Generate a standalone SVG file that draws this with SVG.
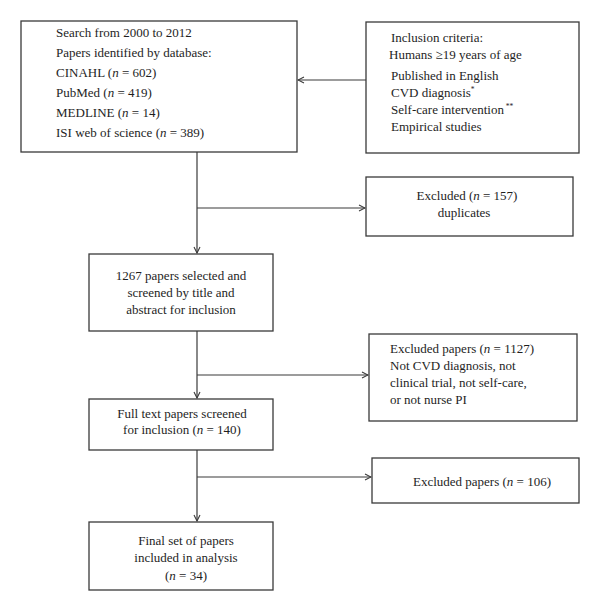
<svg xmlns="http://www.w3.org/2000/svg" width="600" height="611" viewBox="0 0 600 611">
<style>
.box{fill:#fff;stroke:#3a3a3a;stroke-width:1.3}
.ln{fill:none;stroke:#3a3a3a;stroke-width:1.2}
text{font-family:"Liberation Serif","Times New Roman",serif;font-size:13px;fill:#1e1e1e}
.c{text-anchor:middle}
.i{font-style:italic}
.sup{font-size:7.5px}
</style>
<defs>
<marker id="ah" viewBox="0 0 8 8" refX="7" refY="4" markerWidth="8" markerHeight="8" markerUnits="userSpaceOnUse" orient="auto">
<path d="M1,1 L7,4 L1,7" fill="none" stroke="#3a3a3a" stroke-width="1.1"/>
</marker>
</defs>
<rect width="600" height="611" fill="#fff"/>
<g id="connectors">
<line class="ln" x1="366" y1="80" x2="298" y2="80" marker-end="url(#ah)"/>
<line class="ln" x1="197" y1="152" x2="197" y2="253" marker-end="url(#ah)"/>
<line class="ln" x1="197" y1="208" x2="365" y2="208" marker-end="url(#ah)"/>
<line class="ln" x1="197" y1="331" x2="197" y2="398" marker-end="url(#ah)"/>
<line class="ln" x1="197" y1="375" x2="368" y2="375" marker-end="url(#ah)"/>
<line class="ln" x1="197" y1="450" x2="197" y2="521" marker-end="url(#ah)"/>
<line class="ln" x1="197" y1="477" x2="371" y2="477" marker-end="url(#ah)"/>
</g>
<g id="search">
<rect class="box" x="21" y="21" width="276" height="131"/>
<text x="56" y="37">Search from 2000 to 2012</text>
<text x="56" y="57">Papers identified by database:</text>
<text x="56" y="77">CINAHL (<tspan class="i">n</tspan> = 602)</text>
<text x="56" y="97">PubMed (<tspan class="i">n</tspan> = 419)</text>
<text x="56" y="117">MEDLINE (<tspan class="i">n</tspan> = 14)</text>
<text x="56" y="137">ISI web of science (<tspan class="i">n</tspan> = 389)</text>
</g>
<g id="inclusion">
<rect class="box" x="366" y="22" width="213" height="131"/>
<text x="391" y="42">Inclusion criteria:</text>
<text x="389" y="59">Humans ≥19 years of age</text>
<text x="391" y="80">Published in English</text>
<text x="391" y="97">CVD diagnosis<tspan class="sup" dy="-5">*</tspan></text>
<text x="391" y="114">Self-care intervention<tspan class="sup" dy="-5"> **</tspan></text>
<text x="391" y="131">Empirical studies</text>
</g>
<g id="excluded-duplicates">
<rect class="box" x="366" y="177" width="207" height="59"/>
<text class="c" x="467" y="200">Excluded (<tspan class="i">n</tspan> = 157)</text>
<text class="c" x="464" y="217">duplicates</text>
</g>
<g id="screened">
<rect class="box" x="89" y="254" width="184" height="77"/>
<text class="c" x="181" y="280">1267 papers selected and</text>
<text class="c" x="181" y="297">screened by title and</text>
<text class="c" x="181" y="314">abstract for inclusion</text>
</g>
<g id="excluded-1127">
<rect class="box" x="369" y="334" width="208" height="87"/>
<text x="390" y="353">Excluded papers (<tspan class="i">n</tspan> = 1127)</text>
<text x="390" y="370">Not CVD diagnosis, not</text>
<text x="390" y="387">clinical trial, not self-care,</text>
<text x="390" y="404">or not nurse PI</text>
</g>
<g id="fulltext">
<rect class="box" x="89" y="399" width="184" height="51"/>
<text class="c" x="182" y="418">Full text papers screened</text>
<text class="c" x="182" y="434">for inclusion (<tspan class="i">n</tspan> = 140)</text>
</g>
<g id="excluded-106">
<rect class="box" x="372" y="458" width="207" height="45"/>
<text class="c" x="482" y="486">Excluded papers (<tspan class="i">n</tspan> = 106)</text>
</g>
<g id="final">
<rect class="box" x="89" y="522" width="184" height="68"/>
<text class="c" x="186" y="545">Final set of papers</text>
<text class="c" x="186" y="562">included in analysis</text>
<text class="c" x="186" y="580">(<tspan class="i">n</tspan> = 34)</text>
</g>
</svg>
